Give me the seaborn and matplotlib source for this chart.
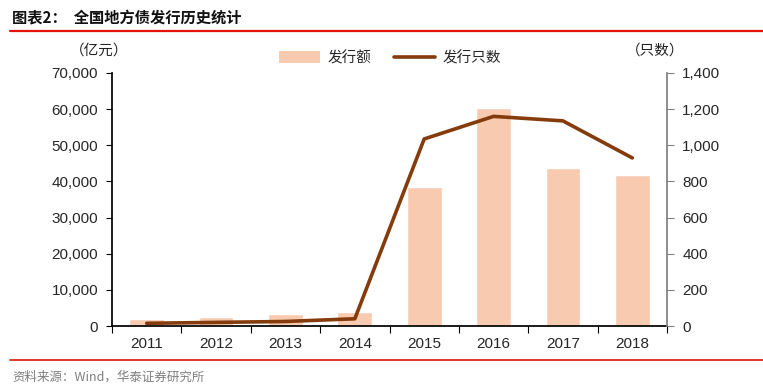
import numpy as np
import pandas as pd
import matplotlib.pyplot as plt
import matplotlib.ticker as mticker
from matplotlib.lines import Line2D
from matplotlib.patches import Patch
import seaborn as sns

# 数据
years = ["2011", "2012", "2013", "2014", "2015", "2016", "2017", "2018"]
amount = [1950, 2500, 3450, 4000, 38350, 60450, 43580, 41650]   # 发行额（亿元）
count = [15, 20, 25, 40, 1035, 1160, 1135, 930]                 # 发行只数

BAR_COLOR = "#F8CBB0"
LINE_COLOR = "#843C0C"

sns.set_theme(style="white")
plt.rcParams["font.family"] = ["Liberation Sans", "Noto Sans CJK SC", "DejaVu Sans"]
CJK = ["Noto Sans CJK SC", "DejaVu Sans"]

df = pd.DataFrame({"year": years, "amount": amount, "count": count})

fig = plt.figure(figsize=(7.63, 3.92), dpi=100)
ax = fig.add_axes([112 / 763, 66 / 392, 555 / 763, 253 / 392])

sns.barplot(data=df, x="year", y="amount", color=BAR_COLOR, width=0.5,
            saturation=1, ax=ax)
ax.set_xlim(-0.5, len(years) - 0.5)
ax.set_ylim(0, 70000)
ax.yaxis.set_major_locator(mticker.MultipleLocator(10000))
ax.yaxis.set_major_formatter(mticker.StrMethodFormatter("{x:,.0f}"))
ax.set_xlabel("")
ax.set_ylabel("")

ax2 = ax.twinx()
sns.lineplot(x=np.arange(len(years)), y=df["count"], color=LINE_COLOR,
             linewidth=2.6, ax=ax2)
ax2.set_ylim(0, 1400)
ax2.yaxis.set_major_locator(mticker.MultipleLocator(200))
ax2.yaxis.set_major_formatter(mticker.StrMethodFormatter("{x:,.0f}"))
ax2.set_ylabel("")
ax2.set_xlim(-0.5, len(years) - 0.5)

# 坐标轴样式
for a in (ax, ax2):
    a.spines["top"].set_visible(False)
ax.spines["left"].set_color("black")
ax.spines["bottom"].set_color("black")
ax.spines["right"].set_visible(False)
ax2.spines["left"].set_visible(False)
ax2.spines["bottom"].set_visible(False)
ax2.spines["right"].set_color("#808080")

ax.tick_params(axis="y", which="major", direction="out", length=4, width=0.8,
               color="black", labelsize=11, pad=6, left=True)
ax.tick_params(axis="x", which="major", length=0, labelsize=11, pad=8)
ax.set_xticks(np.arange(-0.5, len(years)), minor=True)
ax.tick_params(axis="x", which="minor", direction="out", length=5, width=0.8,
               color="black", bottom=True)
ax2.tick_params(axis="y", direction="out", length=5, width=0.8, color="#808080",
                labelsize=11, pad=6, right=True)

# 单位
fig.text(99 / 763, 1 - 51 / 392, "（亿元）", ha="center", va="center",
         fontsize=10.5, color="#222222", family=CJK)
fig.text(655 / 763, 1 - 51 / 392, "（只数）", ha="center", va="center",
         fontsize=10.5, color="#222222", family=CJK)

# 图例
handles = [Patch(facecolor=BAR_COLOR, edgecolor="none"),
           Line2D([0], [0], color=LINE_COLOR, linewidth=2.6)]
leg = fig.legend(handles, ["发行额", "发行只数"], loc="center",
                 bbox_to_anchor=(390 / 763, 1 - 58 / 392), ncol=2, frameon=False,
                 handlelength=2.8, handleheight=0.9, columnspacing=1.6,
                 handletextpad=0.5, prop={"family": CJK, "size": 10.5})

# 标题、分隔线与来源
fig.text(12 / 763, 1 - 18 / 392, "图表2：  全国地方债发行历史统计", ha="left",
         va="center", fontsize=11, fontweight="bold", color="#111111", family=CJK)
fig.add_artist(Line2D([10 / 763, 1], [1 - 30.5 / 392] * 2, color="#E3120B",
                      linewidth=1.6, transform=fig.transFigure))
fig.add_artist(Line2D([10 / 763, 1], [1 - 359.5 / 392] * 2, color="#E3120B",
                      linewidth=1.2, transform=fig.transFigure))
fig.text(12 / 763, 1 - 377 / 392, "资料来源：Wind，华泰证券研究所", ha="left",
         va="center", fontsize=9, color="#7F7F7F", family=CJK)

fig.savefig("out.png", dpi=100)
